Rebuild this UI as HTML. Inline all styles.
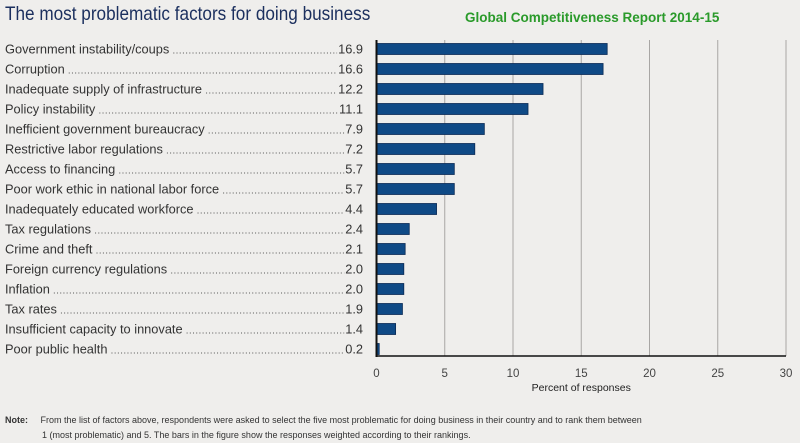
<!DOCTYPE html>
<html><head><meta charset="utf-8"><style>
body{margin:0;background:#efeeec;font-family:"Liberation Sans",Arial,sans-serif;}
#wrap{position:relative;width:800px;height:443px;overflow:hidden;background:#efeeec;}
.t{position:absolute;white-space:nowrap;}
</style></head><body>
<div id="wrap">
<div class="t" style="left:5px;top:3px;font-size:19.5px;color:#1b2f5e;transform:scaleX(0.88);transform-origin:0 0;">The most problematic factors for doing business</div>
<div class="t" style="left:465px;top:10px;font-size:13.5px;font-weight:bold;color:#2a9a2a;">Global Competitiveness Report 2014-15</div>
<svg id="chart" width="800" height="443" style="position:absolute;left:0;top:0"></svg>
<div class="t" style="left:5px;top:413px;font-size:9px;color:#333;line-height:15px;"><b>Note:</b>&nbsp;&nbsp;&nbsp;&nbsp;&nbsp;From the list of factors above, respondents were asked to select the five most problematic for doing business in their country and to rank them between<br><span style="padding-left:37px">1 (most problematic) and 5. The bars in the figure show the responses weighted according to their rankings.</span></div>
</div>
<script>
const categories=["Government instability/coups","Corruption","Inadequate supply of infrastructure","Policy instability","Inefficient government bureaucracy","Restrictive labor regulations","Access to financing","Poor work ethic in national labor force","Inadequately educated workforce","Tax regulations","Crime and theft","Foreign currency regulations","Inflation","Tax rates","Insufficient capacity to innovate","Poor public health"];
const values=[16.9,16.6,12.2,11.1,7.9,7.2,5.7,5.7,4.4,2.4,2.1,2.0,2.0,1.9,1.4,0.2];
const ticks=[0,5,10,15,20,25,30];
const svg=document.getElementById('chart');const NS='http://www.w3.org/2000/svg';
const x0=376.5,x1=786,top0=40,bottom=356,rowH=20,firstY=49;
const xs=v=>x0+(v-0)/(30-0)*(x1-x0);
const ys=i=>firstY+i*rowH;
function mk(t,a){const e=document.createElementNS(NS,t);for(const k in a)e.setAttribute(k,a[k]);svg.appendChild(e);return e;}
ticks.forEach((t,i)=>{
 if(i>0){const g=mk('line',{x1:xs(t),x2:xs(t),y1:top0,y2:bottom,stroke:'#a8a6a4','stroke-width':1});
 
 }
 const l=mk('text',{x:xs(t),y:377,'text-anchor':'middle','font-size':11.5,fill:'#444','font-family':'Liberation Sans, sans-serif'});l.textContent=t;
 
 
});
categories.forEach((c,i)=>{
 const y=ys(i);
 const b=mk('rect',{x:x0,y:y-5.5,width:xs(values[i])-x0,height:11,fill:'#0f4a86',stroke:'#0a2a55','stroke-width':0.8});
 
 
 const lab=mk('text',{x:5,y:y+4.5,'font-size':12.8,fill:'#333','font-family':'Liberation Sans, sans-serif'});lab.textContent=c;
 
 
 const w=lab.getComputedTextLength();
 const val=mk('text',{x:363,y:y+4.5,'font-size':12.8,fill:'#333','text-anchor':'end','font-family':'Liberation Sans, sans-serif'});val.textContent=values[i].toFixed(1);
 
 
 const vw=val.getComputedTextLength();
 const d=mk('line',{x1:5+w+4,x2:363-vw-1,y1:y+4,y2:y+4,stroke:'#555','stroke-width':1.1,'stroke-dasharray':'1 2.2'});
 
 
});
const ya=mk('line',{x1:x0,x2:x0,y1:top0,y2:bottom+1,stroke:'#111','stroke-width':2});


const xa=mk('line',{x1:x0-1,x2:x1,y1:bottom,y2:bottom,stroke:'#111','stroke-width':1.5});


const xt=mk('text',{x:xs(15),y:391,'text-anchor':'middle','font-size':10.5,fill:'#222','font-family':'Liberation Sans, sans-serif'});xt.textContent='Percent of responses';


</script>
</body></html>
